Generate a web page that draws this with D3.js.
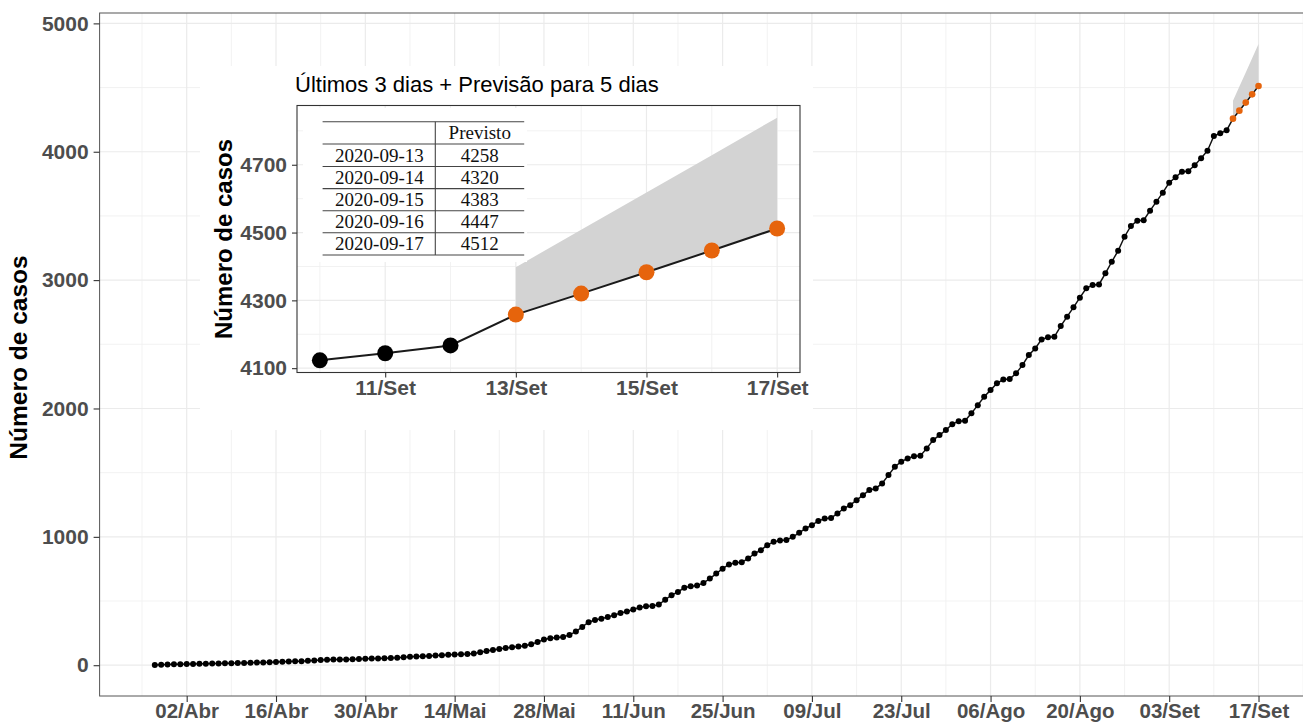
<!DOCTYPE html>
<html><head><meta charset="utf-8">
<script src="https://cdn.jsdelivr.net/npm/d3@7"></script>
<style>
body{margin:0;background:#fff}
svg{display:block}
</style>
</head><body>
<svg id="c" width="1303" height="723"></svg>
<script>
// ---------------- DATA ----------------
const startDate = "2020-03-28";
// cumulative cases, one value per day from 2020-03-28 to 2020-09-12
const observed = [
  2, 3, 5, 7, 8, 9, 10, 11, 12, 13,
  14, 15, 16, 17, 18, 19, 21, 22, 23, 25,
  27, 29, 30, 31, 34, 37, 40, 42, 44, 44,
  45, 47, 49, 50, 52, 53, 54, 56, 58, 62,
  66, 68, 70, 72, 75, 78, 81, 84, 86, 88,
  92, 100, 110, 118, 126, 135, 140, 146, 152, 164,
  180, 200, 210, 216, 220, 236, 262, 298, 335, 352,
  362, 375, 390, 406, 418, 434, 449, 460, 462, 472,
  510, 545, 571, 603, 615, 620, 641, 675, 714, 752,
  785, 798, 802, 831, 870, 896, 935, 961, 972, 976,
  1000, 1031, 1065, 1091, 1124, 1142, 1146, 1182, 1221, 1247,
  1286, 1325, 1364, 1377, 1416, 1481, 1546, 1585, 1611, 1627,
  1632, 1689, 1754, 1793, 1832, 1878, 1900, 1905, 1962, 2026,
  2091, 2143, 2196, 2225, 2230, 2274, 2338, 2416, 2468, 2538,
  2554, 2558, 2642, 2715, 2788, 2863, 2936, 2962, 2966, 3053,
  3143, 3229, 3338, 3422, 3463, 3467, 3541, 3611, 3681, 3759,
  3801, 3845, 3849, 3895, 3949, 4008, 4123, 4144, 4167
];
const forecastDates = ["2020-09-13", "2020-09-14", "2020-09-15", "2020-09-16", "2020-09-17"];
const forecast = [4258, 4320, 4383, 4447, 4512];
const forecastUpper = [4398, 4508, 4618, 4728, 4839];

const xTickDates = ["2020-04-02","2020-04-16","2020-04-30","2020-05-14","2020-05-28","2020-06-11",
  "2020-06-25","2020-07-09","2020-07-23","2020-08-06","2020-08-20","2020-09-03","2020-09-17"];
const xTickLabels = ["02/Abr","16/Abr","30/Abr","14/Mai","28/Mai","11/Jun","25/Jun","09/Jul",
  "23/Jul","06/Ago","20/Ago","03/Set","17/Set"];
const yTicks = [0, 1000, 2000, 3000, 4000, 5000];

const insetXTickDates = ["2020-09-11", "2020-09-13", "2020-09-15", "2020-09-17"];
const insetXTickLabels = ["11/Set", "13/Set", "15/Set", "17/Set"];
const insetYTicks = [4100, 4300, 4500, 4700];
const insetTitle = "Últimos 3 dias + Previsão para 5 dias";
const yTitle = "Número de casos";
const tableHeader = "Previsto";

// ---------------- SETUP ----------------
const svg = d3.select("#c");
const SANS = '"Liberation Sans",Arial,sans-serif';
const SERIF = '"Liberation Serif","DejaVu Serif",serif';
const parse = d3.utcParse("%Y-%m-%d");
const DAY = 864e5;
const t0 = parse(startDate);
const obs = observed.map((v, i) => ({date: new Date(+t0 + i * DAY), value: v}));
const fc = forecastDates.map((d, i) => ({date: parse(d), value: forecast[i], upper: forecastUpper[i]}));
const all = obs.concat(fc);

const ORANGE = "#E6640C";
const GRID = "#EBEBEB";
const AXIS_TXT = "#4D4D4D";

function expand(ext, f = 0.05) {
  const r = ext[1] - ext[0];
  return [ext[0] - r * f, ext[1] + r * f];
}

// ---------------- MAIN PANEL ----------------
const M = {left: 99.6, right: 1313.7, top: 13, bottom: 696};
const xExt = d3.extent(all, d => +d.date);
const x = d3.scaleUtc().domain(expand(xExt).map(t => new Date(t))).range([M.left, M.right]);
const yExt = [d3.min(all, d => d.value), d3.max(fc, d => d.upper)];
const y = d3.scaleLinear().domain(expand(yExt)).range([M.bottom, M.top]);

const main = svg.append("g");
svg.append("defs").append("clipPath").attr("id", "mclip")
  .append("rect").attr("x", M.left).attr("y", M.top)
  .attr("width", M.right - M.left).attr("height", M.bottom - M.top);
const grid = main.append("g").attr("clip-path", "url(#mclip)");

// grid
const xMajor = xTickDates.map(parse);
const xMinor = [];
xMajor.forEach(d => xMinor.push(new Date(+d - 7 * DAY)));
xMinor.push(new Date(+xMajor[xMajor.length - 1] + 7 * DAY));
const yMinor = yTicks.map(v => v + 500).filter(v => v < y.domain()[1]);
grid.selectAll(".xmin").data(xMinor).join("line")
  .attr("x1", d => x(d)).attr("x2", d => x(d)).attr("y1", M.top).attr("y2", M.bottom)
  .attr("stroke", "#F1F1F1").attr("stroke-width", 0.9);
grid.selectAll(".ymin").data(yMinor).join("line")
  .attr("x1", M.left).attr("x2", M.right).attr("y1", d => y(d)).attr("y2", d => y(d))
  .attr("stroke", "#F1F1F1").attr("stroke-width", 0.9);
grid.selectAll(".xmaj").data(xMajor).join("line")
  .attr("x1", d => x(d)).attr("x2", d => x(d)).attr("y1", M.top).attr("y2", M.bottom)
  .attr("stroke", GRID).attr("stroke-width", 1.2);
grid.selectAll(".ymaj").data(yTicks).join("line")
  .attr("x1", M.left).attr("x2", M.right).attr("y1", d => y(d)).attr("y2", d => y(d))
  .attr("stroke", GRID).attr("stroke-width", 1.2);

// ribbon
grid.append("path").datum(fc)
  .attr("d", d3.area().x(d => x(d.date)).y0(d => y(d.value)).y1(d => y(d.upper)))
  .attr("fill", "#D3D3D3");
// line
grid.append("path").datum(all)
  .attr("d", d3.line().x(d => x(d.date)).y(d => y(d.value)))
  .attr("fill", "none").attr("stroke", "#111").attr("stroke-width", 1.5);
grid.selectAll(".op").data(obs).join("circle")
  .attr("cx", d => x(d.date)).attr("cy", d => y(d.value)).attr("r", 3).attr("fill", "#000");
grid.selectAll(".fp").data(fc).join("circle")
  .attr("cx", d => x(d.date)).attr("cy", d => y(d.value)).attr("r", 3.3).attr("fill", ORANGE);

// border
main.append("rect").attr("x", M.left).attr("y", M.top)
  .attr("width", M.right - M.left).attr("height", M.bottom - M.top)
  .attr("fill", "none").attr("stroke", "#555").attr("stroke-width", 1);

function styleAxis(g, size) {
  g.select(".domain").remove();
  g.selectAll(".tick line").attr("stroke", "#333").attr("stroke-width", 1.1);
  g.selectAll(".tick text").attr("fill", AXIS_TXT)
    .style("font-size", size + "px").style("font-weight", "bold").style("font-family", SANS);
}
const xAxis = d3.axisBottom(x).tickValues(xMajor)
  .tickFormat((d, i) => xTickLabels[i]).tickSize(6).tickPadding(1);
main.append("g").attr("transform", `translate(0,${M.bottom})`).call(xAxis).call(g => styleAxis(g, 20.5));
const yAxis = d3.axisLeft(y).tickValues(yTicks).tickFormat(d3.format("d")).tickSize(6).tickPadding(5);
main.append("g").attr("transform", `translate(${M.left},0)`).call(yAxis).call(g => styleAxis(g, 21));

main.append("text").attr("transform", `translate(27,${(M.top + M.bottom) / 2 + 3}) rotate(-90)`)
  .attr("text-anchor", "middle").style("font-family", SANS).style("font-size", "24.5px")
  .style("font-weight", "bold").attr("fill", "#000").text(yTitle);

// ---------------- INSET ----------------
const inset = svg.append("g");
inset.append("rect").attr("x", 200).attr("y", 66).attr("width", 613).attr("height", 364).attr("fill", "#fff");

const I = {left: 297, right: 800, top: 105.5, bottom: 372.5};
const insetData = obs.slice(-3).concat(fc);
const ix = d3.scaleUtc().domain(expand(d3.extent(insetData, d => +d.date)).map(t => new Date(t)))
  .range([I.left, I.right]);
const iy = d3.scaleLinear()
  .domain(expand([d3.min(insetData, d => d.value), d3.max(fc, d => d.upper)]))
  .range([I.bottom, I.top]);

const ig = inset.append("g");
const ixMajor = insetXTickDates.map(parse);
const ixMinor = ixMajor.map(d => new Date(+d - DAY));
const iyMinor = insetYTicks.map(v => v + 100).filter(v => v < iy.domain()[1]);
ig.selectAll(".a").data(ixMinor).join("line")
  .attr("x1", d => ix(d)).attr("x2", d => ix(d)).attr("y1", I.top).attr("y2", I.bottom)
  .attr("stroke", "#F1F1F1").attr("stroke-width", 0.9);
ig.selectAll(".b").data(iyMinor).join("line")
  .attr("x1", I.left).attr("x2", I.right).attr("y1", d => iy(d)).attr("y2", d => iy(d))
  .attr("stroke", "#F1F1F1").attr("stroke-width", 0.9);
ig.selectAll(".c").data(ixMajor).join("line")
  .attr("x1", d => ix(d)).attr("x2", d => ix(d)).attr("y1", I.top).attr("y2", I.bottom)
  .attr("stroke", GRID).attr("stroke-width", 1.2);
ig.selectAll(".d").data(insetYTicks).join("line")
  .attr("x1", I.left).attr("x2", I.right).attr("y1", d => iy(d)).attr("y2", d => iy(d))
  .attr("stroke", GRID).attr("stroke-width", 1.2);

// ribbon, line, points
ig.append("path").datum(fc)
  .attr("d", d3.area().x(d => ix(d.date)).y0(d => iy(d.value)).y1(d => iy(d.upper)))
  .attr("fill", "#D3D3D3");
ig.append("path").datum(insetData)
  .attr("d", d3.line().x(d => ix(d.date)).y(d => iy(d.value)))
  .attr("fill", "none").attr("stroke", "#1a1a1a").attr("stroke-width", 2);
ig.selectAll(".ob").data(obs.slice(-3)).join("circle")
  .attr("cx", d => ix(d.date)).attr("cy", d => iy(d.value)).attr("r", 8).attr("fill", "#000");
ig.selectAll(".fo").data(fc).join("circle")
  .attr("cx", d => ix(d.date)).attr("cy", d => iy(d.value)).attr("r", 8).attr("fill", ORANGE);

// table
const tbl = inset.append("g");
tbl.append("rect").attr("x", 303).attr("y", 108).attr("width", 224).attr("height", 154).attr("fill", "#fff");
const tL = 322.6, tR = 524.2, tDiv = 435.3;
const rules = [121.7, 144, 166.5, 188.6, 210.7, 232.8, 255];
tbl.selectAll(".r").data(rules).join("line")
  .attr("x1", tL).attr("x2", tR).attr("y1", d => d).attr("y2", d => d)
  .attr("stroke", "#444").attr("stroke-width", 1.1);
tbl.append("line").attr("x1", tDiv).attr("x2", tDiv).attr("y1", rules[0]).attr("y2", rules[rules.length - 1])
  .attr("stroke", "#444").attr("stroke-width", 1.1);
function serifText(xp, yp, s) {
  tbl.append("text").attr("x", xp).attr("y", yp).attr("text-anchor", "middle")
    .style("font-family", SERIF).style("font-size", "19px").attr("fill", "#111").text(s);
}
serifText((tDiv + tR) / 2, (rules[0] + rules[1]) / 2 + 6, tableHeader);
forecastDates.forEach((d, i) => {
  const cy = (rules[i + 1] + rules[i + 2]) / 2 + 6.5;
  serifText((tL + tDiv) / 2 + 0.5, cy, d);
  serifText((tDiv + tR) / 2, cy, forecast[i]);
});

// border
inset.append("rect").attr("x", I.left).attr("y", I.top)
  .attr("width", I.right - I.left).attr("height", I.bottom - I.top)
  .attr("fill", "none").attr("stroke", "#333").attr("stroke-width", 1.1);

const ixAxis = d3.axisBottom(ix).tickValues(ixMajor).tickFormat((d, i) => insetXTickLabels[i])
  .tickSize(5).tickPadding(3);
inset.append("g").attr("transform", `translate(0,${I.bottom})`).call(ixAxis).call(g => styleAxis(g, 21));
const iyAxis = d3.axisLeft(iy).tickValues(insetYTicks).tickFormat(d3.format("d")).tickSize(5).tickPadding(5);
inset.append("g").attr("transform", `translate(${I.left},0)`).call(iyAxis).call(g => styleAxis(g, 21));

inset.append("text").attr("transform", `translate(232,${(I.top + I.bottom) / 2}) rotate(-90)`)
  .attr("text-anchor", "middle").style("font-family", SANS).style("font-size", "24px")
  .style("font-weight", "bold").attr("fill", "#000").text(yTitle);
inset.append("text").attr("x", 295).attr("y", 92).style("font-family", SANS).style("font-size", "22px")
  .attr("fill", "#000").text(insetTitle);
</script>
</body></html>
